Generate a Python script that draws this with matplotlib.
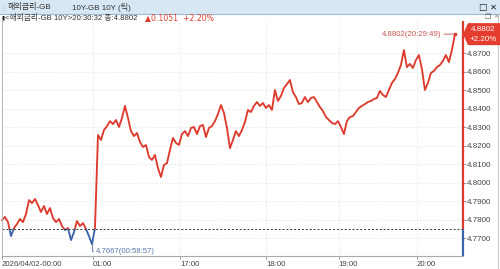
import numpy as np
import matplotlib
matplotlib.use("Agg")
import matplotlib.pyplot as plt
from matplotlib.patches import Rectangle, Polygon

plt.rcParams['font.family'] = ['Liberation Sans', 'Noto Sans CJK KR', 'DejaVu Sans']

# tick series (one value per tick sample)
yields = [
    4.7797, 4.7814, 4.7786, 4.7711, 4.7754, 4.7776, 4.7803, 4.7786, 4.7830, 4.7905,
    4.7889, 4.7911, 4.7878, 4.7841, 4.7873, 4.7830, 4.7862, 4.7808, 4.7786, 4.7803,
    4.7765, 4.7743, 4.7754, 4.7689, 4.7732, 4.7792, 4.7765, 4.7781, 4.7749, 4.7711,
    4.7667, 4.7754, 4.8257, 4.8230, 4.8284, 4.8305, 4.8332, 4.8316, 4.8338, 4.8300,
    4.8349, 4.8414, 4.8349, 4.8278, 4.8251, 4.8268, 4.8219, 4.8192, 4.8203, 4.8138,
    4.8122, 4.8149, 4.8078, 4.8030, 4.8095, 4.8105, 4.8176, 4.8241, 4.8214, 4.8203,
    4.8262, 4.8278, 4.8251, 4.8295, 4.8300, 4.8262, 4.8305, 4.8311, 4.8246, 4.8295,
    4.8305, 4.8332, 4.8370, 4.8419, 4.8376, 4.8295, 4.8186, 4.8230, 4.8278, 4.8251,
    4.8284, 4.8327, 4.8392, 4.8381, 4.8414, 4.8435, 4.8414, 4.8430, 4.8403, 4.8419,
    4.8392, 4.8500, 4.8441, 4.8468, 4.8511, 4.8532, 4.8554, 4.8489, 4.8462, 4.8424,
    4.8430, 4.8462, 4.8435, 4.8457, 4.8462, 4.8435, 4.8408, 4.8387, 4.8354, 4.8338,
    4.8322, 4.8316, 4.8332, 4.8300, 4.8262, 4.8332, 4.8354, 4.8359, 4.8381, 4.8403,
    4.8414, 4.8424, 4.8435, 4.8441, 4.8451, 4.8457, 4.8495, 4.8473, 4.8462, 4.8500,
    4.8538, 4.8559, 4.8592, 4.8635, 4.8716, 4.8624, 4.8641, 4.8619, 4.8662, 4.8689,
    4.8614, 4.8500, 4.8538, 4.8592, 4.8603, 4.8624, 4.8635, 4.8657, 4.8689, 4.8651,
    4.8716, 4.8802,
]
prev_close = 4.7751
last_time = "20:29:49"
low_time = "00:58:57"
change = 0.1051
change_pct = 2.20

time_ticks = [0, 30.3, 59.3, 88.0, 112.3, 138.3]
time_labels = ["2026/04/02-00:00", "01:00", "17:00", "18:00", "19:00", "20:00"]
price_ticks = [4.77, 4.78, 4.79, 4.80, 4.81, 4.82, 4.83, 4.84, 4.85, 4.86, 4.87]

RED = "#de3b2f"
BLUE = "#3c64aa"
W, H = 500, 269

fig = plt.figure(figsize=(5, 2.69), dpi=100)


def fx(px):
    return px / W


def fy(py):
    return 1 - py / H


# header bar
fig.patches.append(Rectangle((0, fy(14)), 1, 14 / H, transform=fig.transFigure,
                             facecolor="#d7e7f4", edgecolor="none"))
fig.lines.append(plt.Line2D([0, 1], [fy(14), fy(14)], transform=fig.transFigure,
                            color="#9fbad3", lw=0.8))
fig.text(fx(0), fy(7.5), "⋮", fontsize=4.5, color="#7a8ea0", va="center",
         family=['DejaVu Sans'])
fig.text(fx(8), fy(7.5), "해외금리-GB", fontsize=5.8, color="#333333", va="center")
fig.text(fx(72), fy(7.5), "10Y-GB 10Y (틱)", fontsize=5.8, color="#333333", va="center")
fig.text(fx(478), fy(7.5), "□", fontsize=6.5, color="#222222", va="center",
         family=['DejaVu Sans'])
fig.text(fx(490), fy(7.5), "✕", fontsize=6, color="#222222", va="center",
         family=['DejaVu Sans'])

# info row
vals = np.array(yields)
fig.text(fx(1.5), fy(18), "▮", fontsize=4, color="#222222", va="center",
         family=['DejaVu Sans'])
fig.text(fx(5), fy(18), f"<해외금리-GB 10Y>20:30:32 종:{vals[-1]:.4f}",
         fontsize=5.6, color="#333333", va="center")
fig.text(fx(145), fy(18), f"▲{change:.4f}  +{change_pct:.2f}%", fontsize=5.6,
         color=RED, va="center", family=['DejaVu Sans'])
fig.text(fx(485), fy(17), "❐", fontsize=5, color="#555555", va="center",
         family=['DejaVu Sans'])
fig.text(fx(493), fy(17), "✕", fontsize=4.5, color="#888888", va="center",
         family=['DejaVu Sans'])

# price chart
ax = fig.add_axes([fx(2), fy(256), (463 - 2) / W, (256 - 21) / H])
x = np.arange(len(vals))
ax.set_xlim(0, 153.7)
ax.set_ylim(4.7603, 4.8873)

for s in ["top", "right"]:
    ax.spines[s].set_visible(False)
ax.spines["bottom"].set_color("#aaaaaa")
ax.spines["left"].set_color("#bbbbbb")
ax.spines["bottom"].set_linewidth(0.8)
ax.spines["left"].set_linewidth(0.8)

ax.set_xticks(time_ticks)
ax.set_xticklabels(time_labels, ha="left", fontsize=5.6, color="#444444")
ax.yaxis.tick_right()
ax.set_yticks(price_ticks)
ax.set_yticklabels([f"{v:.4f}" for v in price_ticks], fontsize=5.8, color="#444444")
ax.tick_params(axis="x", length=2.5, width=0.6, pad=1, color="#888888")
ax.tick_params(axis="y", length=2, width=0.6, pad=1, color="#888888")
ax.grid(True, color="#d8d8d8", linestyle=(0, (1, 2)), linewidth=0.6)

up = Rectangle((-10, prev_close), 200, 1, transform=ax.transData)
dn = Rectangle((-10, prev_close - 1), 200, 1, transform=ax.transData)
l1, = ax.plot(x, vals, color=RED, lw=1.35)
l1.set_clip_path(up)
l2, = ax.plot(x, vals, color=BLUE, lw=1.35)
l2.set_clip_path(dn)

ax.axhline(prev_close, color="#333333", lw=0.7, linestyle=(0, (2, 2)))

# right axis line coloured around previous close
ymin, ymax = ax.get_ylim()
xr = ax.get_xlim()[1]
ax.vlines(xr, prev_close, ymax, color=RED, lw=1.6, clip_on=False)
ax.vlines(xr, ymin, prev_close, color=BLUE, lw=1.6, clip_on=False)

# high / low annotations
i_hi = len(vals) - 1
ax.annotate(f"{vals[i_hi]:.4f}({last_time})", xy=(x[i_hi], vals[i_hi]),
            xytext=(-10, 0), textcoords="offset points", ha="right", va="center",
            fontsize=5.6, color="#c2554d",
            arrowprops=dict(arrowstyle="-", color="#c2554d", lw=0.6,
                            shrinkA=0, shrinkB=1))
ax.plot(x[i_hi], vals[i_hi], "s", color=RED, ms=2)
i_lo = int(np.argmin(vals))
ax.annotate(f"{vals[i_lo]:.4f}({low_time})", xy=(x[i_lo], vals[i_lo]),
            xytext=(3, -5), textcoords="offset points", ha="left", va="center",
            fontsize=5.6, color="#5a78a8",
            arrowprops=dict(arrowstyle="-", color="#5a78a8", lw=0.6,
                            connectionstyle="angle,angleA=0,angleB=90",
                            shrinkA=0, shrinkB=0))

# current value tag on price axis
fig.canvas.draw()
tx, ty = ax.transData.transform((xr, vals[-1]))
tag = Polygon([(tx, ty), (tx + 5, ty + 11), (tx + 37, ty + 11), (tx + 37, ty - 11),
               (tx + 5, ty - 11)], closed=True, transform=None,
              facecolor="#e43c2e", edgecolor="none", zorder=5)
fig.patches.append(tag)
fig.text((tx + 20) / W, (ty + 5) / H, f"{vals[-1]:.4f}", fontsize=5.8, color="white",
         ha="center", va="center", zorder=6)
fig.text((tx + 20) / W, (ty - 5) / H, f"+{change_pct:.2f}%", fontsize=5.8, color="white",
         ha="center", va="center", zorder=6)

# panel right border
fig.lines.append(plt.Line2D([fx(498), fx(498)], [0, fy(14)], transform=fig.transFigure,
                            color="#c8c8c8", lw=0.8))

fig.savefig("out.png", dpi=100)
